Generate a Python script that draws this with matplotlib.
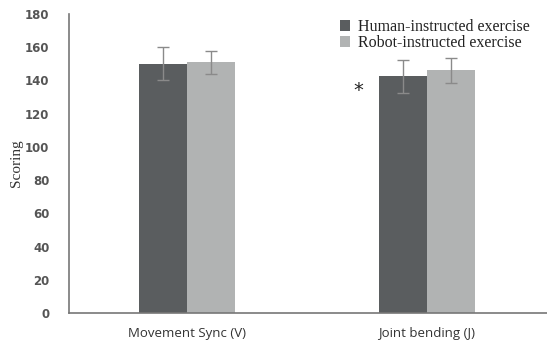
import matplotlib.pyplot as plt
import numpy as np

categories = ['Movement Sync (V)', 'Joint bending (J)']
human = [150, 142.5]
robot = [151, 146]
human_err = [10, 10]
robot_err = [7, 7.5]
series_names = ['Human-instructed exercise', 'Robot-instructed exercise']
yticks = [0, 20, 40, 60, 80, 100, 120, 140, 160, 180]

dark = '#5a5d5f'
light = '#b1b3b3'

fig = plt.figure(figsize=(5.47, 3.41), dpi=100)
ax = fig.add_axes([69/547, 28/341, 478/547, 299/341])

x = np.arange(len(categories))
w = 0.2
ax.bar(x - w/2, human, w, color=dark, label=series_names[0],
       yerr=human_err, error_kw=dict(ecolor='#8a8a8a', elinewidth=1, capsize=4, capthick=1))
ax.bar(x + w/2, robot, w, color=light, label=series_names[1],
       yerr=robot_err, error_kw=dict(ecolor='#8a8a8a', elinewidth=1, capsize=4, capthick=1))

# significance marker
ax.text(x[1] - w - 0.085, 134, '*', ha='center', va='center', fontsize=14, color='#222222')

ax.set_xlim(-0.49, 1.5)
ax.set_ylim(0, 180)
ax.set_xticks(x)
ax.set_xticklabels(categories, fontfamily='Open Sans', fontsize=9.5, color='#333333')
ax.set_yticks(yticks)
ax.set_yticklabels([str(v) for v in yticks], fontfamily='DejaVu Sans', fontweight='bold',
                   fontsize=8.5, color='#555555')
ax.tick_params(axis='both', length=0)
ax.tick_params(axis='x', pad=10)
ax.tick_params(axis='y', pad=14)

for s in ['top', 'right']:
    ax.spines[s].set_visible(False)
for s in ['left', 'bottom']:
    ax.spines[s].set_color('#777777')
    ax.spines[s].set_linewidth(1.2)

ax.set_ylabel('Scoring', fontfamily='Liberation Serif', fontsize=11, color='#333333')
ax.yaxis.set_label_coords(-0.097, 0.5)

leg = ax.legend(loc='upper left', bbox_to_anchor=(0.537, 1.03), frameon=False,
                prop={'family': 'Liberation Serif', 'size': 11.5},
                handlelength=0.65, handleheight=0.65, handletextpad=0.45, labelspacing=0.0)
for t in leg.get_texts():
    t.set_color('#222222')

fig.savefig('out.png', dpi=100)
